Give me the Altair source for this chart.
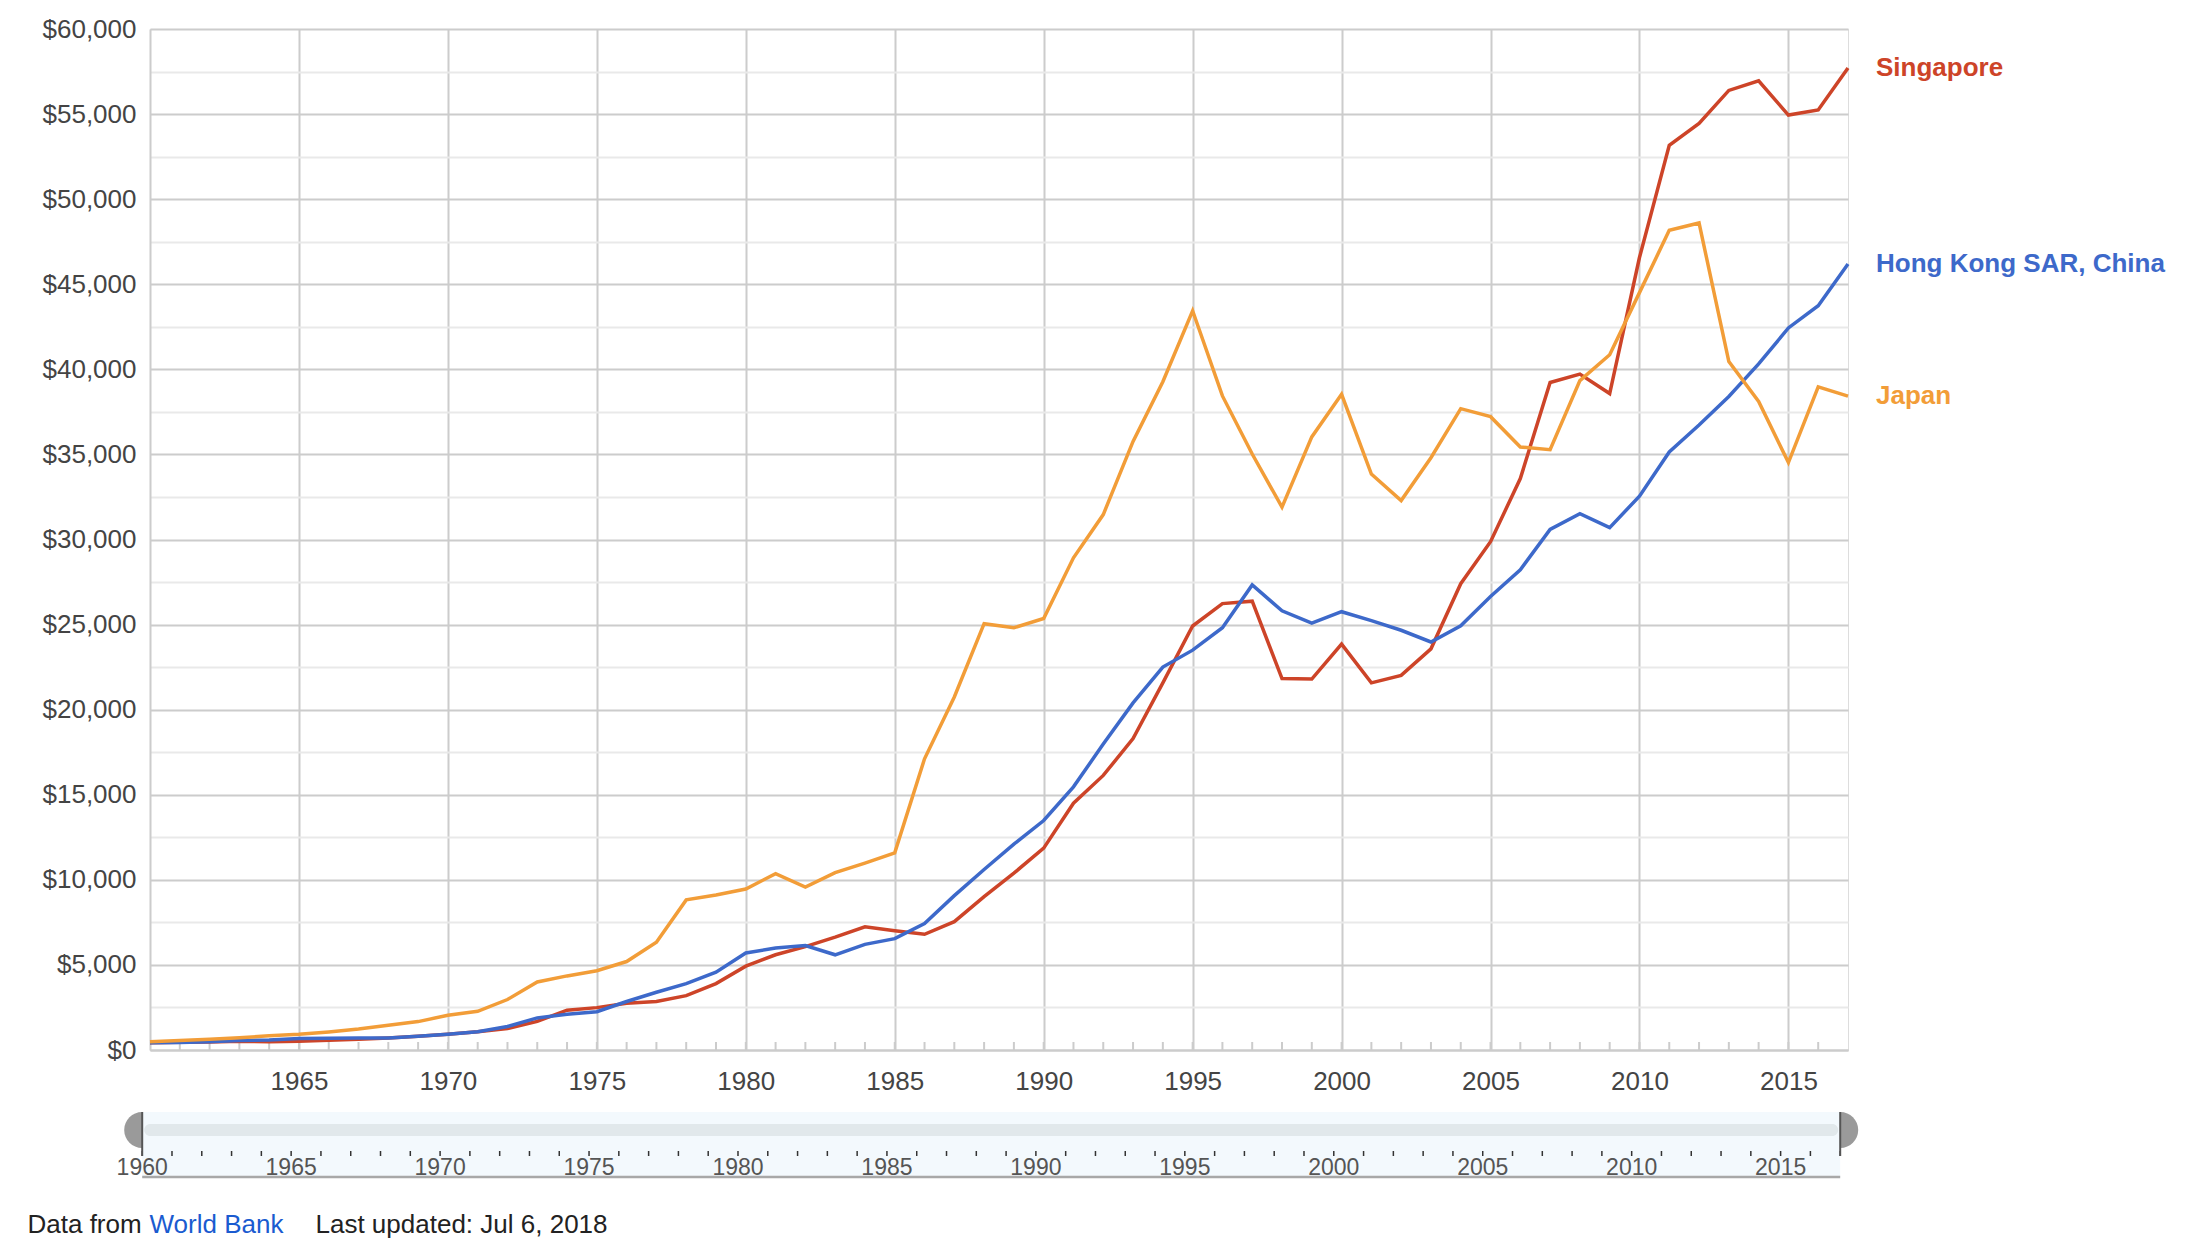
import altair as alt
import pandas as pd

# ---------------- data ----------------
years = list(range(1960, 2018))

singapore = [428, 449, 472, 511, 485, 517, 567, 626, 708, 813,
             925, 1071, 1264, 1685, 2342, 2490, 2746, 2846, 3194, 3901,
             4928, 5596, 6078, 6633, 7235, 7002, 6800, 7539, 9017, 10394,
             11862, 14502, 16136, 18302, 21578, 24915, 26233, 26376, 21829, 21796,
             23852, 21577, 22017, 23574, 27405, 29870, 33580, 39224, 39721, 38578,
             46570, 53167, 54451, 56389, 56957, 54941, 55243, 57714]

hong_kong = [429, 441, 487, 551, 584, 678, 697, 710, 706, 812,
             925, 1071, 1378, 1887, 2104, 2253, 2848, 3396, 3904, 4571,
             5700, 5991, 6134, 5595, 6208, 6543, 7435, 9071, 10610, 12098,
             13486, 15466, 17976, 20396, 22503, 23497, 24818, 27330, 25809, 25092,
             25757, 25230, 24666, 23977, 24928, 26650, 28224, 30594, 31516, 30697,
             32550, 35142, 36731, 38404, 40315, 42432, 43737, 46194]

japan = [479, 564, 634, 717, 835, 919, 1059, 1229, 1451, 1669,
         2037, 2272, 2967, 3997, 4354, 4659, 5198, 6335, 8821, 9105,
         9463, 10361, 9578, 10425, 10984, 11585, 17112, 20745, 25051, 24813,
         25359, 28925, 31465, 35766, 39269, 43440, 38437, 35022, 31903, 36027,
         38532, 33846, 32289, 34808, 37689, 37218, 35434, 35275, 39339, 40855,
         44508, 48168, 48603, 40454, 38109, 34524, 38972, 38428]

countries = ["Singapore", "Hong Kong SAR, China", "Japan"]
colors = ["#cd4428", "#3d69ca", "#f29d38"]

x_label_years = [1965, 1970, 1975, 1980, 1985, 1990, 1995, 2000, 2005, 2010, 2015]
slider_label_years = [1960, 1965, 1970, 1975, 1980, 1985, 1990, 1995, 2000, 2005, 2010, 2015]
y_ticks = [0, 2500, 5000, 7500, 10000, 12500, 15000, 17500, 20000, 22500, 25000,
           27500, 30000, 32500, 35000, 37500, 40000, 42500, 45000, 47500, 50000,
           52500, 55000, 57500, 60000]
footer_texts = ["Data from", "World Bank", "Last updated: Jul 6, 2018"]

# ---------------- layout constants ----------------
FONT = "Liberation Sans"
W, H = 1698, 1021
SHIFT = -7.8

rows = []
for name, vals in zip(countries, [singapore, hong_kong, japan]):
    for yr, v in zip(years, vals):
        rows.append({"country": name, "year": yr, "gdp": v})
df = pd.DataFrame(rows)

x_scale = alt.Scale(domain=[years[0], years[-1]], nice=False, zero=False)
y_scale = alt.Scale(domain=[0, 60000], nice=False)
color_scale = alt.Scale(domain=countries, range=colors)

x_axis = alt.Axis(values=x_label_years, format="d", title=None, grid=True,
                  gridColor="#cccccc", gridWidth=2, domainColor="#cccccc", domainWidth=2,
                  ticks=False, tickSize=0, labelFont=FONT, labelFontSize=26,
                  labelColor="#444444", labelPadding=39, labelBaseline="alphabetic",
                  labelFlush=False)
y_axis = alt.Axis(values=y_ticks, format="$,.0f", title=None, grid=True,
                  gridColor={"condition": {"test": "datum.value % 5000 === 0", "value": "#cccccc"},
                             "value": "#e9e9e9"},
                  gridWidth=2, domainColor="#cccccc", domainWidth=2, ticks=False, tickSize=0,
                  labelExpr="datum.value % 5000 === 0 ? datum.label : ''",
                  labelFont=FONT, labelFontSize=26, labelColor="#444444", labelPadding=14,
                  minExtent=137, maxExtent=137)

X = alt.X("year:Q", scale=x_scale, axis=x_axis)
Y = alt.Y("gdp:Q", scale=y_scale, axis=y_axis)

# year ticks along the bottom of the plot
tick_df = pd.DataFrame({"year": years[1:-1]})
year_ticks = alt.Chart(tick_df).mark_rule(color="#cccccc", strokeWidth=2).encode(
    x=alt.X("year:Q", scale=x_scale), y=alt.value(H - 8), y2=alt.value(H))

lines = alt.Chart(df).mark_line(strokeWidth=3.5).encode(
    x=X, y=Y, color=alt.Color("country:N", scale=color_scale, legend=None))

end_labels = alt.Chart(df[df["year"] == years[-1]]).mark_text(
    align="left", baseline="middle", dx=28, fontSize=26, fontWeight="bold", font=FONT
).encode(x=alt.X("year:Q", scale=x_scale), y=alt.Y("gdp:Q", scale=y_scale),
         text="country:N", color=alt.Color("country:N", scale=color_scale, legend=None))

# ---------------- range slider (decoration) ----------------
slider_df = pd.DataFrame({"start": [years[0]], "end": [years[-1]]})
sx = alt.X("start:Q", scale=x_scale)
sx2 = alt.X2("end:Q")

slider_bg = alt.Chart(slider_df).mark_rect(fill="#f3f9fd", xOffset=SHIFT, x2Offset=SHIFT).encode(
    x=sx, x2=sx2, y=alt.value(H + 62), y2=alt.value(H + 127))
slider_band = alt.Chart(slider_df).mark_rect(fill="#e1e8eb", cornerRadius=6,
                                             xOffset=SHIFT + 2, x2Offset=SHIFT - 2).encode(
    x=sx, x2=sx2, y=alt.value(H + 74), y2=alt.value(H + 86))
slider_border = alt.Chart(slider_df).mark_rule(color="#a8a8a8", strokeWidth=2.5,
                                               xOffset=SHIFT, x2Offset=SHIFT).encode(
    x=sx, x2=sx2, y=alt.value(H + 127))

all_years_df = pd.DataFrame({"year": years})
slider_ticks = alt.Chart(all_years_df).mark_rule(color="#333333", strokeWidth=1.5, xOffset=SHIFT).encode(
    x=alt.X("year:Q", scale=x_scale), y=alt.value(H + 101), y2=alt.value(H + 106))

slider_lab_df = pd.DataFrame({"year": slider_label_years})
slider_labels = alt.Chart(slider_lab_df).mark_text(
    baseline="alphabetic", align="center", fontSize=23, font=FONT, color="#555555", dx=SHIFT
).encode(x=alt.X("year:Q", scale=x_scale), text=alt.Text("year:Q", format="d"),
         y=alt.value(H + 125))

left_df = pd.DataFrame({"year": [years[0]]})
right_df = pd.DataFrame({"year": [years[-1]]})
left_handle = alt.Chart(left_df).mark_point(
    shape="M0,-1A1,1 0 0,0 0,1Z", size=1296, filled=True, color="#9a9a9a", opacity=1,
    strokeWidth=0, xOffset=SHIFT).encode(x=alt.X("year:Q", scale=x_scale), y=alt.value(H + 80))
right_handle = alt.Chart(right_df).mark_point(
    shape="M0,-1A1,1 0 0,1 0,1Z", size=1296, filled=True, color="#9a9a9a", opacity=1,
    strokeWidth=0, xOffset=SHIFT).encode(x=alt.X("year:Q", scale=x_scale), y=alt.value(H + 80))
edge_df = pd.DataFrame({"year": [years[0], years[-1]]})
edge_lines = alt.Chart(edge_df).mark_rule(color="#555555", strokeWidth=2, xOffset=SHIFT).encode(
    x=alt.X("year:Q", scale=x_scale), y=alt.value(H + 62), y2=alt.value(H + 106))

# ---------------- footer ----------------
one = pd.DataFrame({"k": [0]})
footer1 = alt.Chart(one).mark_text(align="left", baseline="alphabetic", fontSize=26, font=FONT,
                                   color="#222222", text=footer_texts[0]).encode(
    x=alt.value(-122.5), y=alt.value(H + 183))
footer2 = alt.Chart(one).mark_text(align="left", baseline="alphabetic", fontSize=26, font=FONT,
                                   color="#1a5bd0", text=footer_texts[1]).encode(
    x=alt.value(-0.5), y=alt.value(H + 183))
footer3 = alt.Chart(one).mark_text(align="left", baseline="alphabetic", fontSize=26, font=FONT,
                                   color="#222222", text=footer_texts[2]).encode(
    x=alt.value(165.5), y=alt.value(H + 183))

chart = alt.layer(
    year_ticks, lines, end_labels,
    slider_bg, slider_band, slider_border, slider_ticks, slider_labels,
    left_handle, right_handle, edge_lines,
    footer1, footer2, footer3,
).properties(
    width=W, height=H,
    padding={"left": 5, "top": 8, "right": 5, "bottom": 0},
).configure_view(stroke="transparent").configure(font=FONT)

chart.save("out.html", embed_options={"renderer": "svg", "actions": False})
